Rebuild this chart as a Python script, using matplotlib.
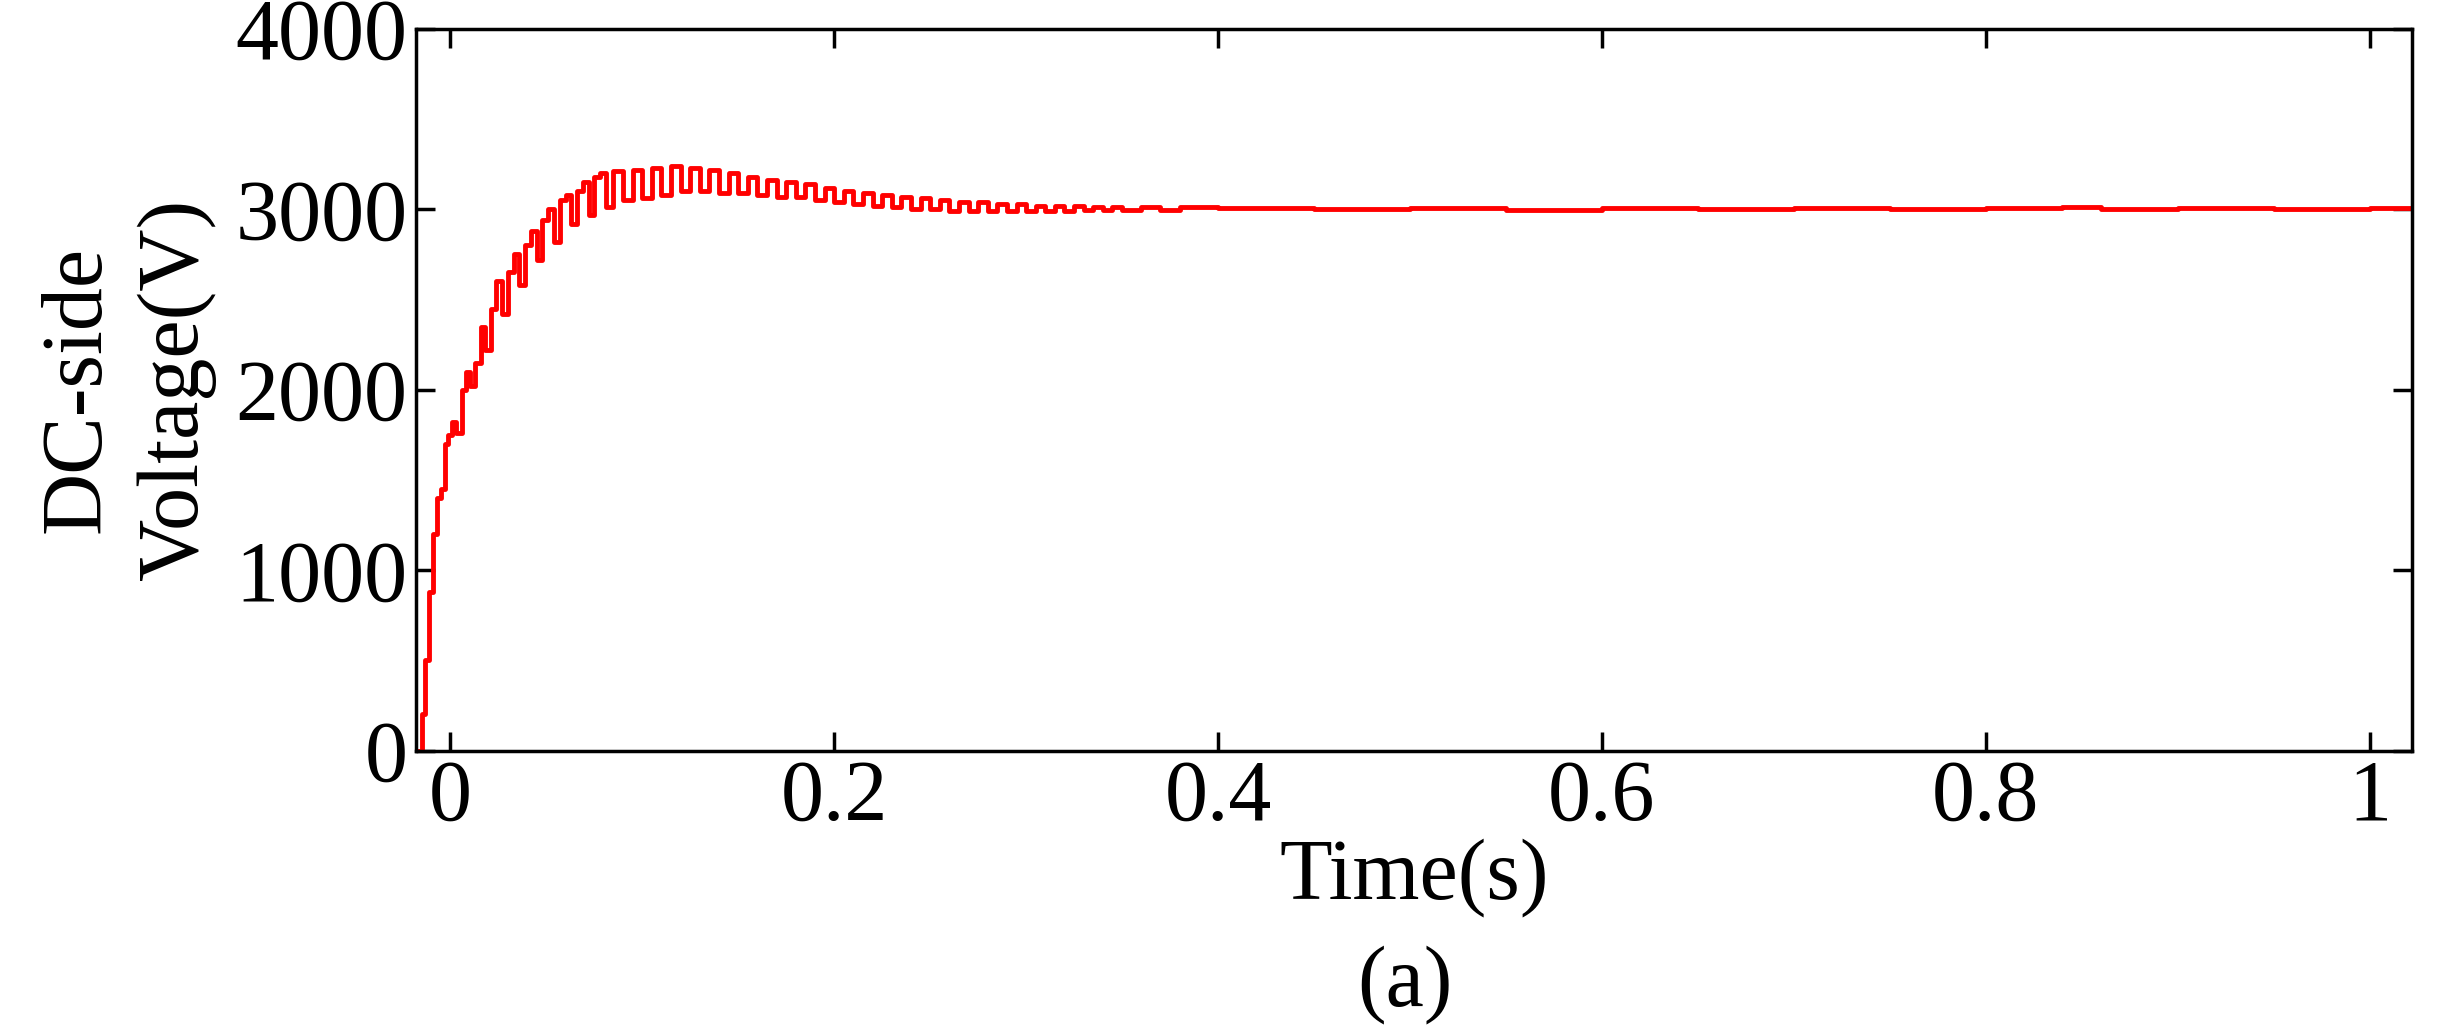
import matplotlib
matplotlib.use("Agg")
import matplotlib.pyplot as plt

time_s = [-0.017, -0.015, -0.013, -0.011, -0.009, -0.007, -0.005, -0.003, -0.001, 0.001, 0.003,
          0.006, 0.008, 0.010, 0.013, 0.016, 0.018, 0.021, 0.024, 0.027, 0.030, 0.033, 0.036,
          0.039, 0.042, 0.045, 0.048, 0.051, 0.054, 0.057, 0.060, 0.063, 0.066, 0.069, 0.072,
          0.075, 0.078, 0.081, 0.085, 0.090, 0.095, 0.100, 0.105, 0.110, 0.115, 0.120, 0.125,
          0.130, 0.135, 0.140, 0.145, 0.150, 0.155, 0.160, 0.165, 0.170, 0.175, 0.180, 0.185,
          0.190, 0.195, 0.200, 0.205, 0.210, 0.215, 0.220, 0.225, 0.230, 0.235, 0.240, 0.245,
          0.250, 0.255, 0.260, 0.265, 0.270, 0.275, 0.280, 0.285, 0.290, 0.295, 0.300, 0.305,
          0.310, 0.315, 0.320, 0.325, 0.330, 0.335, 0.340, 0.345, 0.350, 0.360, 0.370, 0.380,
          0.400, 0.450, 0.500, 0.550, 0.600, 0.650, 0.700, 0.750, 0.800, 0.840, 0.860, 0.900,
          0.950, 1.000, 1.022]
voltage_v = [0, 200, 500, 880, 1200, 1400, 1450, 1700, 1750, 1820, 1760,
             2000, 2100, 2020, 2150, 2350, 2220, 2450, 2600, 2420, 2650, 2750, 2580,
             2800, 2880, 2720, 2940, 3000, 2820, 3050, 3080, 2920, 3100, 3150, 2970,
             3180, 3200, 3010, 3210, 3050, 3220, 3060, 3230, 3080, 3240, 3100, 3230,
             3100, 3220, 3090, 3200, 3090, 3180, 3080, 3160, 3070, 3150, 3070, 3140,
             3050, 3120, 3040, 3100, 3030, 3090, 3020, 3080, 3010, 3070, 3000, 3060,
             3000, 3050, 2990, 3040, 2990, 3040, 2990, 3030, 2990, 3030, 2990, 3020,
             2990, 3020, 2990, 3020, 2995, 3015, 2995, 3015, 2995, 3010, 2995, 3010,
             3005, 3000, 3005, 2995, 3005, 3000, 3005, 3000, 3005, 3015, 3000, 3005,
             3000, 3005, 3005]

x_ticks = [0, 0.2, 0.4, 0.6, 0.8, 1]
x_tick_labels = ["0", "0.2", "0.4", "0.6", "0.8", "1"]
y_ticks = [0, 1000, 2000, 3000, 4000]

plt.rcParams['font.family'] = ['Liberation Serif', 'DejaVu Serif']

fig = plt.figure(figsize=(24.46, 10.31), dpi=100)
ax = fig.add_axes([0.170, 0.272, 0.816, 0.700])
ax.plot(time_s, voltage_v, color='red', lw=3.5, drawstyle='steps-post')
ax.set_xlim(-0.018, 1.022)
ax.set_ylim(0, 4000)
ax.set_xticks(x_ticks)
ax.set_xticklabels(x_tick_labels)
ax.set_yticks(y_ticks)
ax.tick_params(direction='in', length=14, width=2.5, labelsize=62, top=True, right=True, pad=6)
for s in ax.spines.values():
    s.set_linewidth(2.5)
ax.set_xlabel("Time(s)", fontsize=62, labelpad=0)
ax.set_ylabel("DC-side\nVoltage(V)", fontsize=62, labelpad=14, linespacing=1.3)
fig.text(0.5745, 0.045, "(a)", fontsize=62, ha='center', va='center')
fig.savefig("out.png", dpi=100)
